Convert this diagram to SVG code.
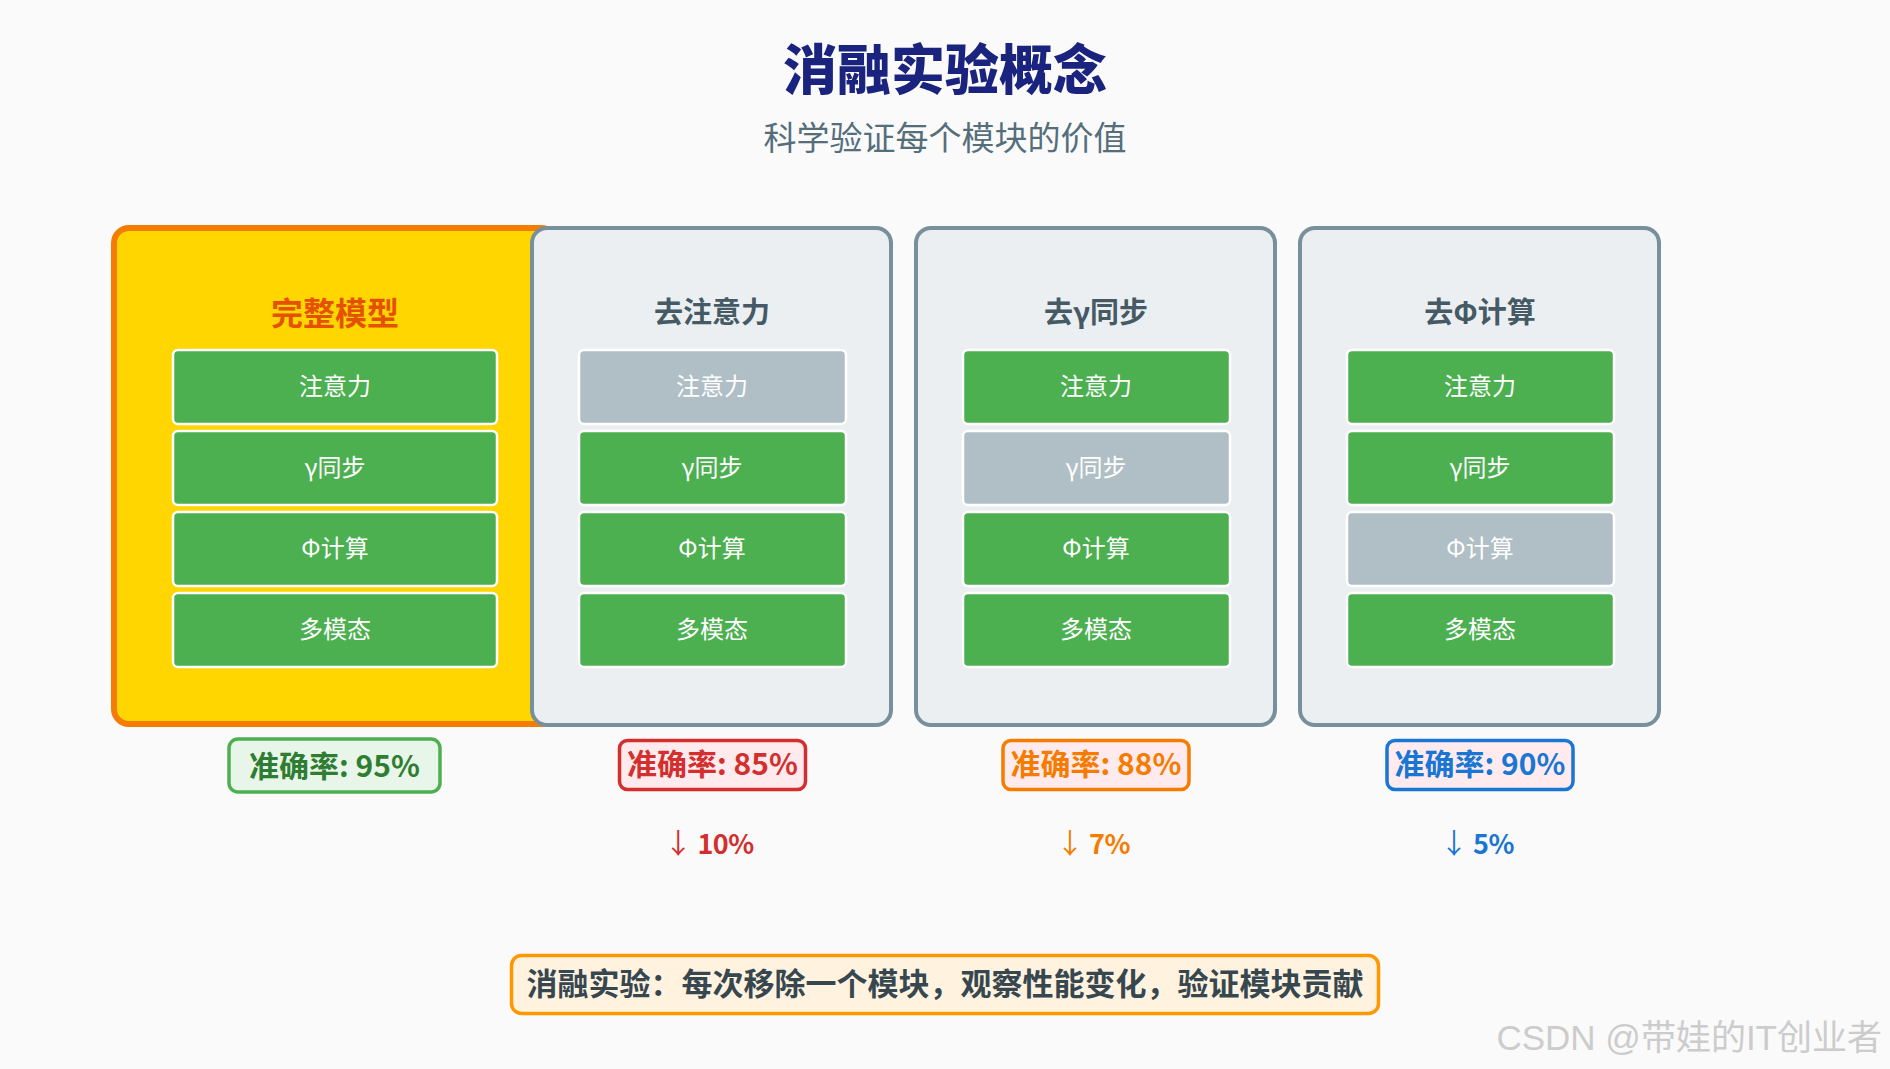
<svg xmlns="http://www.w3.org/2000/svg" width="1890" height="1069" viewBox="0 0 1890 1069">
<style>
  text { font-family: "Noto Sans CJK SC", "Noto Sans", sans-serif; text-anchor: middle; }
  .title { font-size: 54px; font-weight: 900; fill: #1A237E; }
  .subtitle { font-size: 33px; font-weight: 400; fill: #546E7A; }
  .panel { fill: #ECEFF1; stroke: #78909C; stroke-width: 4; }
  .panel-main { fill: #FFD600; stroke: #F57C00; stroke-width: 6; }
  .ptitle { font-size: 29px; font-weight: 700; fill: #455A64; }
  .ptitle-main { font-size: 32px; font-weight: 700; fill: #E65100; }
  .on { fill: #4CAF50; stroke: #FFFFFF; stroke-width: 2.5; }
  .off { fill: #B0BEC5; stroke: #FFFFFF; stroke-width: 2.5; }
  .mod { font-size: 24px; fill: #FFFFFF; }
  .badge { stroke-width: 3.5; }
  .acc { font-size: 30px; font-weight: 700; }
  .drop { font-size: 27px; font-weight: 700; letter-spacing: -0.5px; }
  .arrow { font-weight: 400; font-size: 28px; }
  .note { fill: #FFF3E0; stroke: #FF9800; stroke-width: 3.5; }
  .notetext { font-size: 31px; font-weight: 700; fill: #37474F; }
  .wm { font-family: "Liberation Sans", "Noto Sans CJK SC", sans-serif; font-size: 35px; fill: #CCCCCC; text-anchor: end; }
</style>
<rect x="0" y="0" width="1890" height="1069" fill="#FAFAFA"/>

<g id="header">
  <text class="title" x="945" y="90">消融实验概念</text>
  <text class="subtitle" x="945" y="150">科学验证每个模块的价值</text>
</g>

<g id="panel-full">
  <rect class="panel-main" x="114" y="228" width="442" height="496" rx="15"/>
  <text class="ptitle-main" x="335" y="325">完整模型</text>
  <rect class="on" x="173" y="350" width="324" height="74" rx="5"/>
  <text class="mod" x="335" y="395">注意力</text>
  <rect class="on" x="173" y="431" width="324" height="74" rx="5"/>
  <text class="mod" x="335" y="476">γ同步</text>
  <rect class="on" x="173" y="512" width="324" height="74" rx="5"/>
  <text class="mod" x="335" y="557">Φ计算</text>
  <rect class="on" x="173" y="593" width="324" height="74" rx="5"/>
  <text class="mod" x="335" y="638">多模态</text>
</g>

<g id="panel-no-attention">
  <rect class="panel" x="532" y="228" width="359" height="497" rx="15"/>
  <text class="ptitle" x="712" y="323">去注意力</text>
  <rect class="off" x="579" y="350" width="267" height="74" rx="5"/>
  <text class="mod" x="712" y="395">注意力</text>
  <rect class="on" x="579" y="431" width="267" height="74" rx="5"/>
  <text class="mod" x="712" y="476">γ同步</text>
  <rect class="on" x="579" y="512" width="267" height="74" rx="5"/>
  <text class="mod" x="712" y="557">Φ计算</text>
  <rect class="on" x="579" y="593" width="267" height="74" rx="5"/>
  <text class="mod" x="712" y="638">多模态</text>
</g>

<g id="panel-no-gamma">
  <rect class="panel" x="916" y="228" width="359" height="497" rx="15"/>
  <text class="ptitle" x="1096" y="323">去γ同步</text>
  <rect class="on" x="963" y="350" width="267" height="74" rx="5"/>
  <text class="mod" x="1096" y="395">注意力</text>
  <rect class="off" x="963" y="431" width="267" height="74" rx="5"/>
  <text class="mod" x="1096" y="476">γ同步</text>
  <rect class="on" x="963" y="512" width="267" height="74" rx="5"/>
  <text class="mod" x="1096" y="557">Φ计算</text>
  <rect class="on" x="963" y="593" width="267" height="74" rx="5"/>
  <text class="mod" x="1096" y="638">多模态</text>
</g>

<g id="panel-no-phi">
  <rect class="panel" x="1300" y="228" width="359" height="497" rx="15"/>
  <text class="ptitle" x="1480" y="323">去Φ计算</text>
  <rect class="on" x="1347" y="350" width="267" height="74" rx="5"/>
  <text class="mod" x="1480" y="395">注意力</text>
  <rect class="on" x="1347" y="431" width="267" height="74" rx="5"/>
  <text class="mod" x="1480" y="476">γ同步</text>
  <rect class="off" x="1347" y="512" width="267" height="74" rx="5"/>
  <text class="mod" x="1480" y="557">Φ计算</text>
  <rect class="on" x="1347" y="593" width="267" height="74" rx="5"/>
  <text class="mod" x="1480" y="638">多模态</text>
</g>

<g id="badge-full">
  <rect class="badge" x="229" y="739" width="211" height="53" rx="9" fill="#E8F5E9" stroke="#4CAF50" stroke-width="4"/>
  <text class="acc" x="334.5" y="777" fill="#2E7D32" font-size="34">准确率: 95%</text>
</g>
<g id="badge-no-attention">
  <rect class="badge" x="619.5" y="740.5" width="186" height="49" rx="8" fill="#FFEBEE" stroke="#D32F2F"/>
  <text class="acc" x="712.5" y="775" fill="#D32F2F">准确率: 85%</text>
  <text class="drop" x="709" y="854" fill="#D32F2F"><tspan class="arrow">↓</tspan> 10%</text>
</g>
<g id="badge-no-gamma">
  <rect class="badge" x="1003" y="740.5" width="186" height="49" rx="8" fill="#FFEBEE" stroke="#F57C00"/>
  <text class="acc" x="1096" y="775" fill="#F57C00">准确率: 88%</text>
  <text class="drop" x="1093" y="854" fill="#F57C00"><tspan class="arrow">↓</tspan> 7%</text>
</g>
<g id="badge-no-phi">
  <rect class="badge" x="1387" y="740.5" width="186" height="49" rx="8" fill="#FFEBEE" stroke="#1976D2"/>
  <text class="acc" x="1480" y="775" fill="#1976D2">准确率: 90%</text>
  <text class="drop" x="1477" y="854" fill="#1976D2"><tspan class="arrow">↓</tspan> 5%</text>
</g>

<g id="connectors"></g>

<g id="note">
  <rect class="note" x="511.5" y="955.5" width="867" height="58" rx="10"/>
  <text class="notetext" x="945" y="995">消融实验：每次移除一个模块，观察性能变化，验证模块贡献</text>
</g>

<text class="wm" x="1882" y="1050">CSDN @带娃的IT创业者</text>
</svg>
